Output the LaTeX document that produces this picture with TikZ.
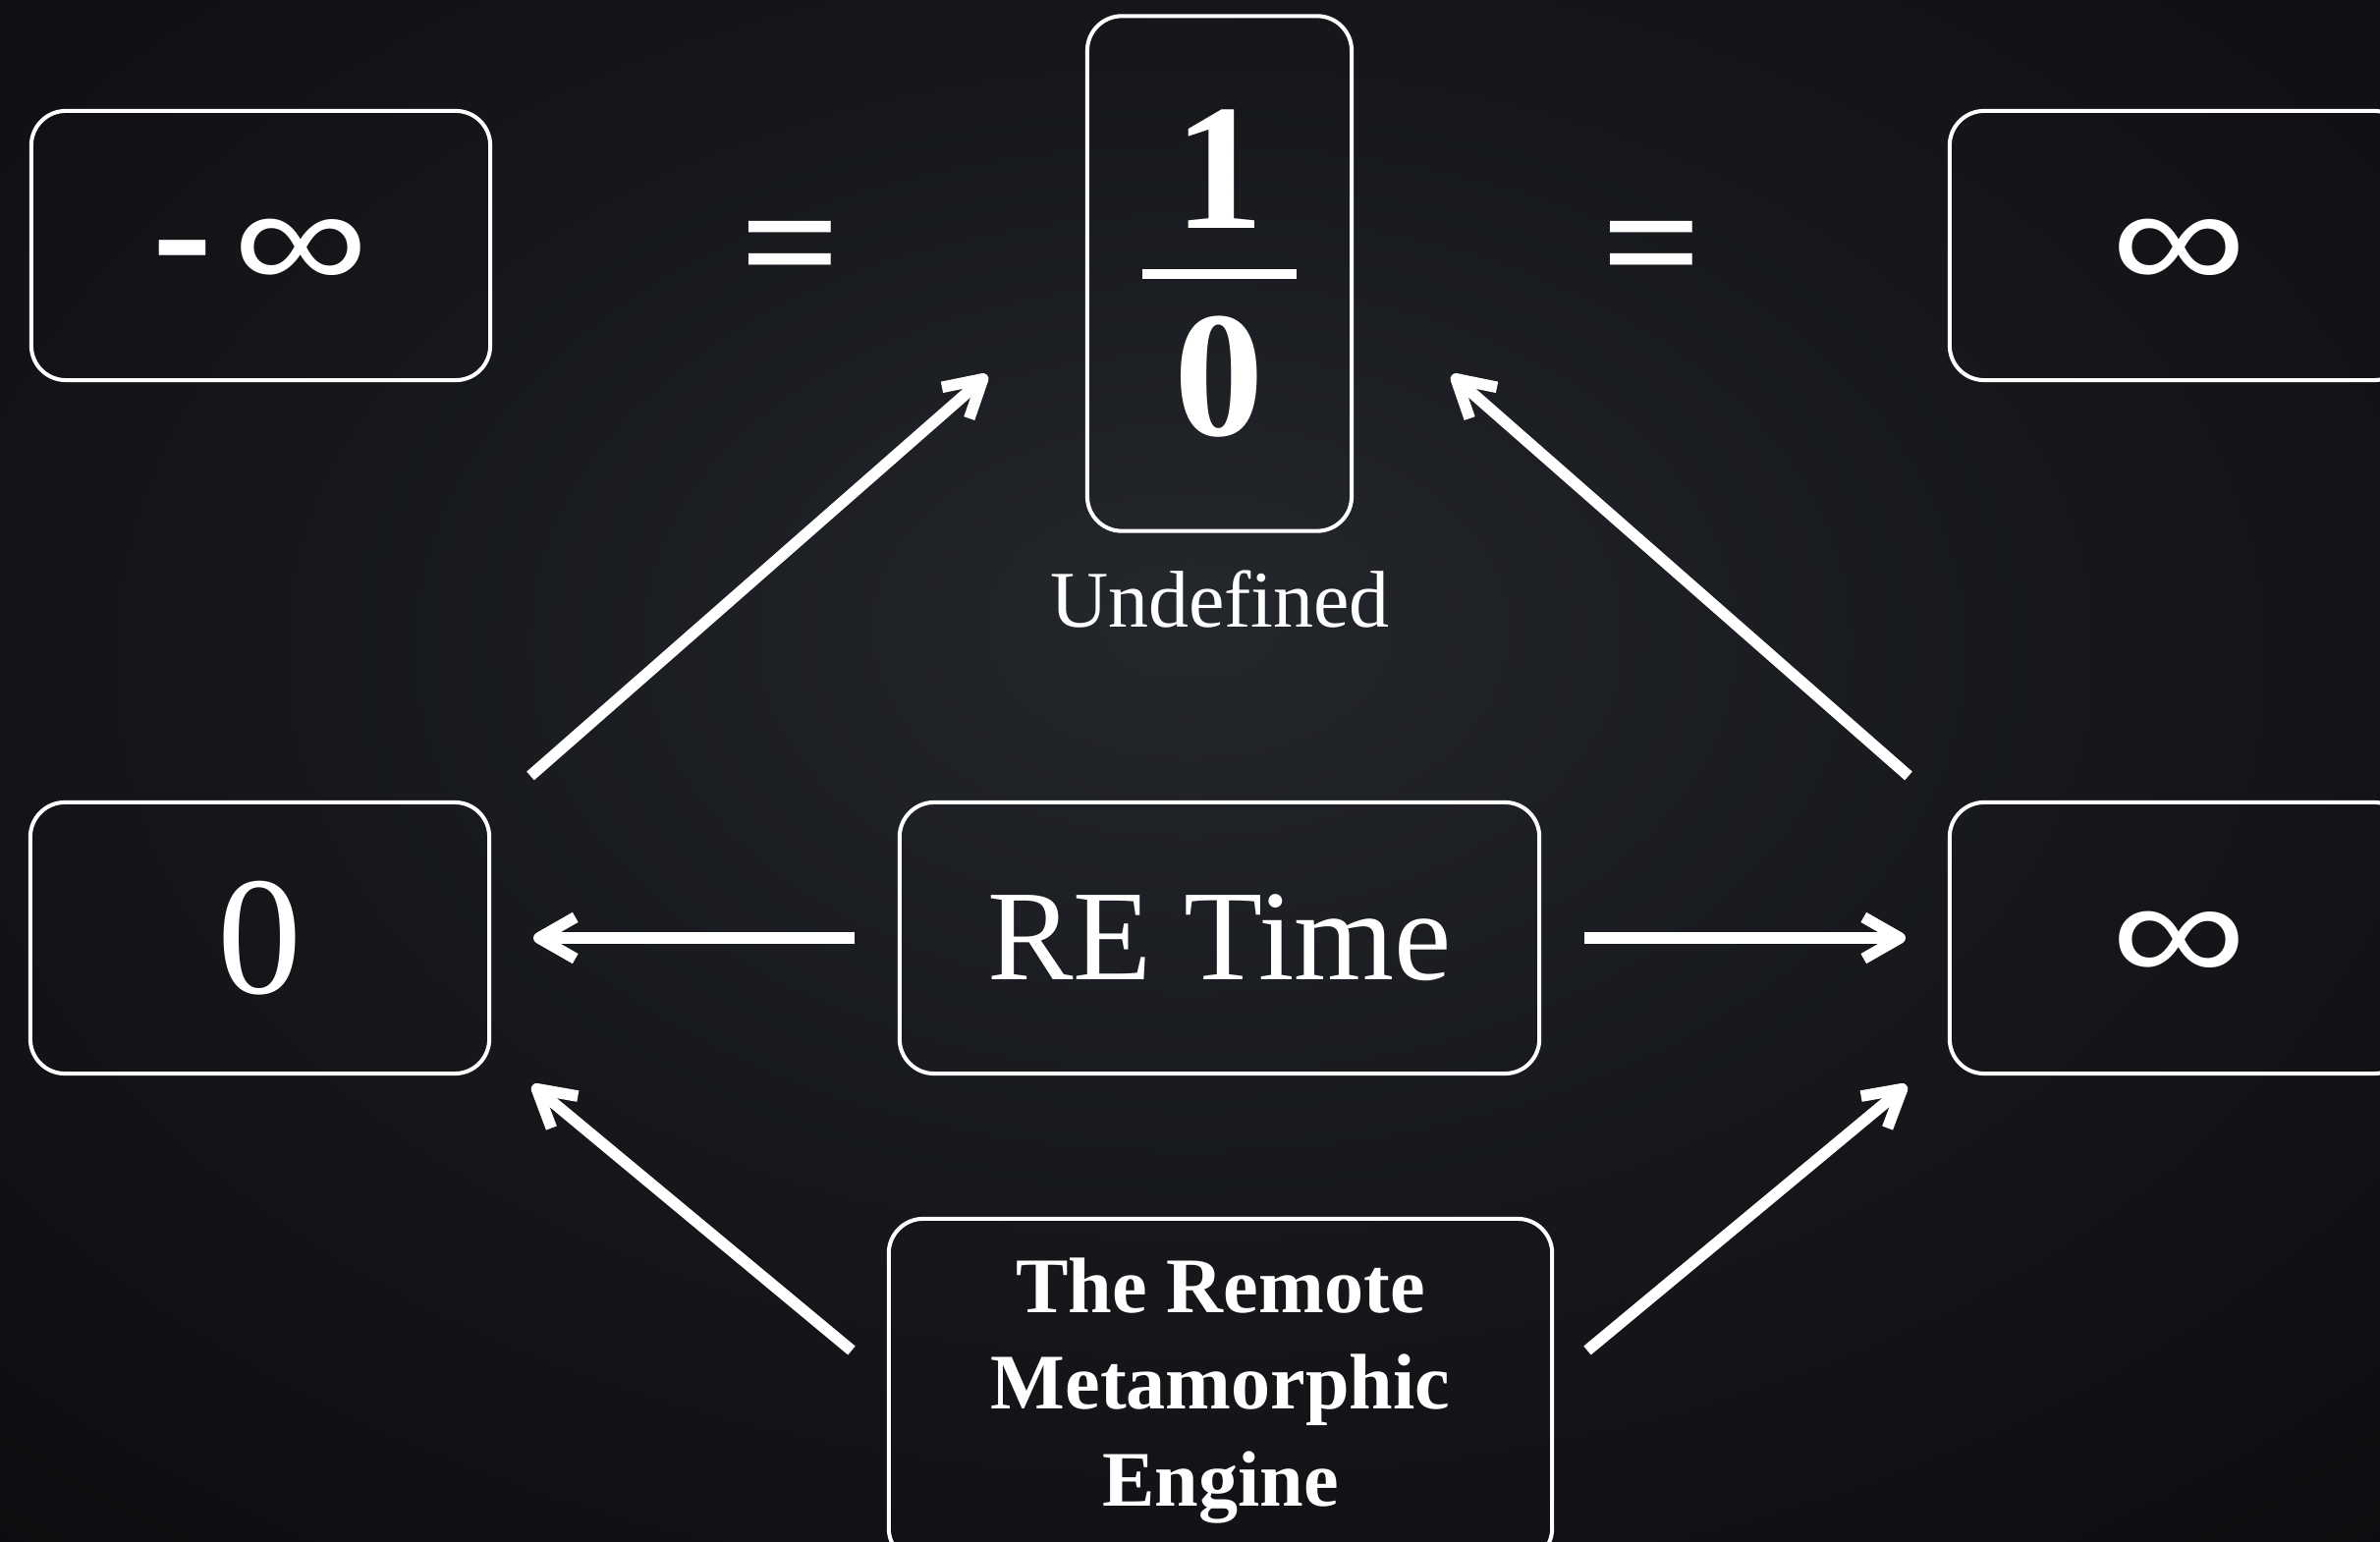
\documentclass[tikz,border=0pt]{standalone}
\usepackage{fontspec}
\setmainfont{Liberation Serif}
\newfontfamily\sansf{Liberation Sans}
\usetikzlibrary{arrows.meta}
\definecolor{bgin}{RGB}{36,39,44}
\definecolor{bgmid}{RGB}{22,24,28}
\definecolor{bgout}{RGB}{8,9,11}
\newdimen\px \px=0.284528pt
\pgfdeclareradialshading{vignette}{\pgfpoint{0bp}{5bp}}{color(0bp)=(bgin); color(18bp)=(bgmid); color(45bp)=(bgout); color(80bp)=(bgout)}
\newcommand\fracbox{\vbox{\hbox to 157\px{\hss 1\hss}\kern42\px\hrule height 10\px\kern38\px\hbox to 157\px{\hss 0\hss}}}
\newcommand\infglyph{\scalebox{1}[0.78]{\sansf\fontsize{55}{55}\selectfont ∞}}
\newcommand\infsym{\infglyph\raisebox{18\px}{\vphantom{\infglyph}}}
\newcommand\eqglyph{\scalebox{1.09}[1]{\bfseries\fontsize{47}{47}\selectfont =}}
\newcommand\eqsym{\eqglyph\raisebox{37\px}{\vphantom{\eqglyph}}}
\begin{document}
\begin{tikzpicture}[x=0.01cm,y=-0.01cm,
  box/.style={draw=white, line width=1.15pt, rounded corners=10pt, inner sep=0pt, text=white},
  lbl/.style={text=white, inner sep=0pt},
  arr/.style={draw=white, line width=3.3pt, -{Straight Barb[length=10.5pt,width=12pt,line cap=butt,line join=round]}}]
\useasboundingbox (0,0) rectangle (2423,1570);
\shade[shading=vignette] (0,0) rectangle (2423,1570);
% boxes
\node[box, minimum width=4.67cm, minimum height=2.74cm] (ninf) at (265.5,250)
  {{\fontsize{52}{52}\selectfont\bfseries -}\hspace{6pt}\infsym};
\node[box, minimum width=2.69cm, minimum height=5.24cm, font=\fontsize{52}{54}\selectfont\bfseries] (frac) at (1241.5,278.5) {\fracbox};
\node[box, minimum width=4.67cm, minimum height=2.74cm] (pinf) at (2218.5,250) {\infsym};
\node[box, minimum width=4.67cm, minimum height=2.76cm, font=\fontsize{48.9}{50}\selectfont] (zero) at (264.5,955) {0};
\node[box, minimum width=6.51cm, minimum height=2.76cm, font=\fontsize{37.3}{40}\selectfont] (ret) at (1241.5,955) {RE Time\hspace{11pt}};
\node[box, minimum width=4.67cm, minimum height=2.76cm] (inf) at (2218.5,955) {\infsym};
\node[box, minimum width=6.75cm, minimum height=3.5cm, align=center, font=\fontsize{22.8}{27.9}\selectfont\bfseries] (engine) at (1242.5,1416) {The Remote\\Metamorphic\\Engine};
% labels
\node[lbl] (eq1) at (805,245) {\eqsym};
\node[lbl] (eq2) at (1682,245) {\eqsym};
\node[lbl, anchor=base, font=\fontsize{23.3}{25}\selectfont] (undef) at (1242,639) {Undefined};
% arrow end points
\coordinate (a1s) at (540,790);  \coordinate (a1e) at (1005,382);
\coordinate (a2s) at (1943,790); \coordinate (a2e) at (1478,382);
\coordinate (a3s) at (870,955);  \coordinate (a3e) at (543,955);
\coordinate (a4s) at (1613,955); \coordinate (a4e) at (1940,955);
\coordinate (a5s) at (867,1375); \coordinate (a5e) at (542,1105);
\coordinate (a6s) at (1616,1375);\coordinate (a6e) at (1941,1105);
\draw[arr] (a1s) -- (a1e);
\draw[arr] (a2s) -- (a2e);
\draw[arr] (a3s) -- (a3e);
\draw[arr] (a4s) -- (a4e);
\draw[arr] (a5s) -- (a5e);
\draw[arr] (a6s) -- (a6e);
\end{tikzpicture}
\end{document}
